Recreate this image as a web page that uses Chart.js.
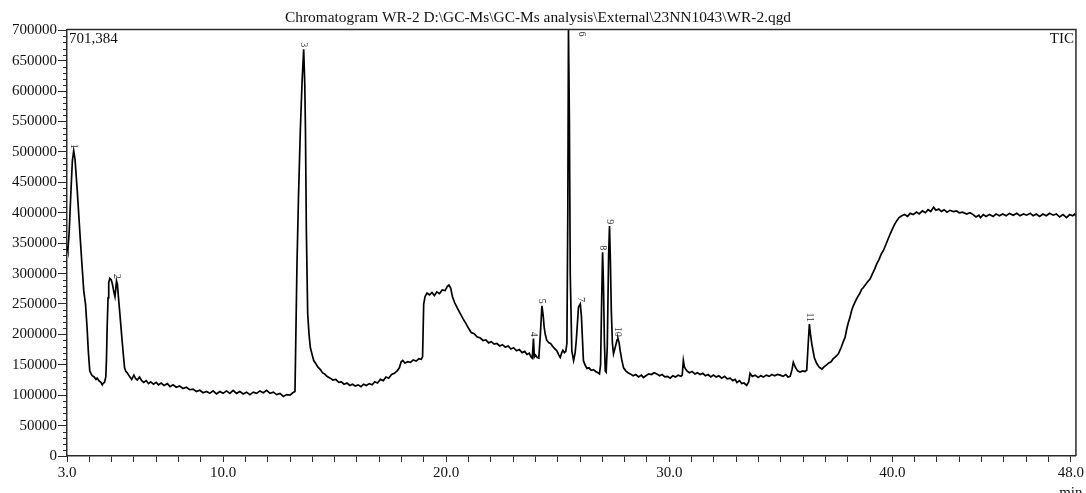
<!DOCTYPE html>
<html>
<head>
<meta charset="utf-8">
<script src="https://cdn.jsdelivr.net/npm/chart.js@4.4.1/dist/chart.umd.min.js"></script>
<style>
  html, body { margin: 0; padding: 0; background: #fff; }
  #wrap { width: 1086px; height: 493px; }
</style>
</head>
<body>
<div id="wrap"><canvas id="chart" width="1086" height="493"></canvas></div>
<script>
/* TIC chromatogram WR-2 */
const TITLE = 'Chromatogram WR-2 D:\\GC-Ms\\GC-Ms analysis\\External\\23NN1043\\WR-2.qgd';
const MAX_INTENSITY = 701384;

// retention time (min)
const retentionTimes = [
  3.00, 3.04, 3.10, 3.17, 3.24, 3.30, 3.36, 3.46, 3.53, 3.60, 3.68, 3.75, 3.83, 3.90, 3.96, 4.02, 4.08, 4.13, 4.22, 4.30,
  4.35, 4.45, 4.52, 4.58, 4.63, 4.68, 4.74, 4.77, 4.80, 4.84, 4.87, 4.92, 4.98, 5.04, 5.10, 5.15, 5.19, 5.22, 5.26, 5.32,
  5.37, 5.42, 5.47, 5.53, 5.58, 5.64, 5.70, 5.80, 5.90, 6.00, 6.08, 6.15, 6.25, 6.35, 6.44, 6.55, 6.65, 6.75, 6.88, 7.00,
  7.10, 7.22, 7.35, 7.50, 7.62, 7.75, 7.90, 8.05, 8.20, 8.35, 8.50, 8.65, 8.80, 8.95, 9.10, 9.25, 9.40, 9.55, 9.70, 9.85,
  10.00, 10.15, 10.30, 10.45, 10.60, 10.75, 10.90, 11.05, 11.20, 11.35, 11.50, 11.65, 11.80, 11.95, 12.10, 12.25, 12.40, 12.55, 12.70, 12.85,
  13.00, 13.12, 13.22, 13.31, 13.38, 13.46, 13.54, 13.61, 13.66, 13.69, 13.73, 13.79, 13.85, 13.91, 14.00, 14.06, 14.15, 14.25, 14.36,
  14.45, 14.55, 14.65, 14.80, 14.92, 15.05, 15.18, 15.30, 15.42, 15.55, 15.68, 15.80, 15.92, 16.05, 16.18, 16.30, 16.42, 16.55, 16.68, 16.80,
  16.92, 17.05, 17.18, 17.30, 17.42, 17.55, 17.68, 17.80, 17.90, 17.98, 18.05, 18.15, 18.28, 18.40, 18.52, 18.65, 18.78, 18.88, 18.94, 18.99,
  19.05, 19.14, 19.25, 19.36, 19.47, 19.58, 19.70, 19.82, 19.95, 20.05, 20.12, 20.20, 20.28, 20.38, 20.50, 20.62, 20.75, 20.88, 21.00, 21.12,
  21.25, 21.38, 21.53, 21.65, 21.78, 21.90, 22.02, 22.15, 22.27, 22.40, 22.52, 22.65, 22.78, 22.90, 23.02, 23.15, 23.28, 23.40, 23.52, 23.62,
  23.72, 23.80, 23.86, 23.91, 23.95, 24.00, 24.08, 24.15, 24.22, 24.29, 24.35, 24.39, 24.45, 24.51, 24.60, 24.68, 24.76, 24.85, 24.96, 25.05,
  25.11, 25.18, 25.23, 25.30, 25.36, 25.41, 25.45, 25.48, 25.52, 25.56, 25.63, 25.71, 25.78, 25.83, 25.93, 26.01, 26.06, 26.11, 26.15, 26.22,
  26.31, 26.40, 26.50, 26.60, 26.70, 26.80, 26.87, 26.92, 26.97, 27.01, 27.05, 27.09, 27.13, 27.17, 27.22, 27.28, 27.32, 27.36, 27.40, 27.45,
  27.50, 27.57, 27.66, 27.70, 27.75, 27.80, 27.87, 27.95, 28.05, 28.15, 28.25, 28.38, 28.50, 28.62, 28.75, 28.84, 28.95, 29.08, 29.20, 29.32,
  29.44, 29.56, 29.68, 29.80, 29.92, 30.04, 30.16, 30.28, 30.40, 30.52, 30.58, 30.63, 30.68, 30.79, 30.90, 31.02, 31.15, 31.26, 31.38, 31.50,
  31.62, 31.74, 31.86, 31.98, 32.10, 32.22, 32.35, 32.48, 32.60, 32.73, 32.85, 32.95, 33.03, 33.15, 33.25, 33.35, 33.47, 33.56, 33.62, 33.72,
  33.85, 33.98, 34.10, 34.22, 34.35, 34.48, 34.60, 34.72, 34.85, 34.97, 35.10, 35.22, 35.32, 35.42, 35.50, 35.56, 35.65, 35.75, 35.86, 35.98,
  36.08, 36.16, 36.22, 36.28, 36.33, 36.39, 36.50, 36.61, 36.72, 36.84, 36.95, 37.05, 37.15, 37.25, 37.35, 37.45, 37.58, 37.70, 37.80, 37.88,
  37.95, 38.03, 38.10, 38.18, 38.25, 38.35, 38.45, 38.55, 38.62, 38.70, 38.80, 38.90, 39.00, 39.10, 39.20, 39.30, 39.40, 39.50, 39.60, 39.70,
  39.80, 39.90, 40.00, 40.10, 40.20, 40.30, 40.42, 40.55, 40.68, 40.80, 40.94, 41.08, 41.20, 41.35, 41.48, 41.60, 41.72, 41.85, 41.95, 42.08,
  42.20, 42.32, 42.45, 42.58, 42.73, 42.88, 43.00, 43.15, 43.33, 43.48, 43.62, 43.75, 43.88, 43.95, 44.08, 44.20, 44.35, 44.52, 44.65, 44.80,
  44.95, 45.10, 45.25, 45.42, 45.58, 45.72, 45.88, 46.02, 46.18, 46.31, 46.45, 46.60, 46.75, 46.90, 47.05, 47.21, 47.35, 47.50, 47.65, 47.81,
  47.95, 48.08, 48.18, 48.23
];

// total ion current (counts)
const intensities = [
  345000, 338000, 370000, 430000, 485000, 502000, 488000, 436000, 395000, 354000, 310000, 272000, 250000, 211000, 170000, 140000, 135000, 132000, 130000, 126000,
  128000, 123000, 121000, 117000, 120000, 121000, 130000, 160000, 211000, 260000, 285000, 292000, 290000, 282000, 270000, 262000, 276000, 288000, 282000, 255000,
  234000, 212000, 190000, 165000, 145000, 139000, 137000, 131000, 126000, 133000, 127000, 125000, 130000, 124000, 121000, 124000, 119000, 122000, 118000, 121000,
  117000, 120000, 116000, 119000, 114000, 117000, 113000, 115000, 111000, 113000, 109000, 110000, 106000, 108000, 104000, 106000, 103000, 107000, 102000, 106000,
  103000, 107000, 103000, 108000, 103000, 106000, 102000, 105000, 101000, 105000, 103000, 107000, 104000, 108000, 103000, 105000, 101000, 103000, 98000, 101000,
  100000, 104000, 106000, 316000, 430000, 535000, 617000, 669000, 610000, 535000, 370000, 234000, 200000, 178000, 165000, 157000, 152000, 146000, 142000,
  137000, 135000, 131000, 128000, 125000, 126000, 121000, 122000, 118000, 120000, 116000, 118000, 115000, 117000, 114000, 118000, 116000, 119000, 117000, 122000,
  120000, 126000, 124000, 130000, 128000, 134000, 136000, 140000, 145000, 155000, 157000, 153000, 155000, 154000, 158000, 156000, 160000, 159000, 163000, 250000,
  262000, 268000, 265000, 269000, 264000, 270000, 267000, 273000, 272000, 279000, 281000, 276000, 262000, 252000, 243000, 235000, 226000, 218000, 210000, 203000,
  201000, 196000, 194000, 190000, 191000, 186000, 188000, 184000, 185000, 181000, 183000, 179000, 181000, 176000, 178000, 173000, 175000, 170000, 172000, 167000,
  169000, 163000, 161000, 193000, 163000, 166000, 162000, 161000, 200000, 247000, 230000, 212000, 198000, 190000, 186000, 185000, 181000, 177000, 173000, 166000,
  162000, 170000, 174000, 170000, 172000, 185000, 400000, 701384, 560000, 300000, 173000, 157000, 170000, 190000, 245000, 250000, 230000, 190000, 157000, 150000,
  144000, 145000, 141000, 142000, 139000, 137000, 135000, 150000, 260000, 335000, 280000, 190000, 140000, 138000, 180000, 330000, 378000, 320000, 240000, 185000,
  168000, 178000, 191000, 193000, 186000, 173000, 158000, 145000, 140000, 137000, 135000, 132000, 134000, 130000, 133000, 129000, 132000, 135000, 134000, 137000,
  135000, 132000, 134000, 130000, 131000, 128000, 132000, 130000, 133000, 131000, 133000, 157000, 146000, 140000, 137000, 139000, 135000, 137000, 134000, 136000,
  132000, 134000, 130000, 133000, 130000, 132000, 128000, 131000, 127000, 128000, 124000, 126000, 121000, 124000, 119000, 120000, 116000, 122000, 136000, 131000,
  133000, 129000, 132000, 130000, 133000, 131000, 134000, 132000, 134000, 133000, 131000, 134000, 130000, 131000, 142000, 154000, 146000, 140000, 138000, 140000,
  139000, 141000, 180000, 217000, 200000, 184000, 162000, 152000, 146000, 143000, 147000, 150000, 153000, 155000, 160000, 163000, 168000, 178000, 188000, 195000,
  208000, 220000, 228000, 240000, 247000, 255000, 262000, 268000, 274000, 277000, 282000, 287000, 291000, 299000, 307000, 316000, 323000, 332000, 338000, 347000,
  356000, 365000, 373000, 381000, 387000, 392000, 395000, 397000, 394000, 399000, 397000, 401000, 398000, 403000, 400000, 405000, 402000, 409000, 404000, 406000,
  402000, 405000, 401000, 404000, 402000, 403000, 400000, 401000, 398000, 400000, 397000, 393000, 396000, 392000, 397000, 394000, 397000, 394000, 398000, 395000,
  398000, 395000, 399000, 396000, 399000, 395000, 398000, 396000, 399000, 395000, 398000, 394000, 398000, 395000, 399000, 396000, 398000, 393000, 397000, 392000,
  397000, 395000, 398000, 394000
];

// numbered peaks
const peakLabels = ['1', '2', '3', '4', '5', '6', '7', '8', '9', '10', '11'];
const peakTimes = [3.30, 5.22, 13.61, 23.91, 24.29, 25.48, 26.01, 27.01, 27.32, 27.70, 36.28];
const peakHeights = [502000, 288000, 669000, 193000, 247000, 701384, 250000, 335000, 378000, 193000, 217000];

// axes
const xLabelled = [3, 10, 20, 30, 40, 48];
const yTickValues = [0, 50000, 100000, 150000, 200000, 250000, 300000, 350000, 400000, 450000, 500000, 550000, 600000, 650000, 700000];

const SERIF = "'Liberation Serif', 'Times New Roman', serif";
const INK = '#111';
const FRAME = '#2a2a2a';

const xMinorTicks = [];
for (let m = 3; m <= 48; m++) xMinorTicks.push(m);

const chartFrame = {
  id: 'chartFrame',
  afterDraw(chart) {
    const { ctx, chartArea: a, scales } = chart;
    ctx.save();
    ctx.strokeStyle = FRAME;
    ctx.lineWidth = 1.5;
    ctx.beginPath();
    ctx.moveTo(a.left, a.top);
    ctx.lineTo(a.right, a.top);
    ctx.lineTo(a.right, a.bottom);
    ctx.stroke();

    // short minor ticks on the intensity axis
    ctx.lineWidth = 1;
    ctx.beginPath();
    for (let v = 10000; v < 701384; v += 10000) {
      if (v % 50000 === 0) continue;
      const py = Math.round(scales.y.getPixelForValue(v)) + 0.5;
      ctx.moveTo(a.left - 4, py);
      ctx.lineTo(a.left, py);
    }
    ctx.stroke();

    ctx.fillStyle = INK;
    ctx.font = '15px ' + SERIF;
    ctx.textBaseline = 'middle';
    ctx.textAlign = 'left';
    ctx.fillText(MAX_INTENSITY.toLocaleString('en-US'), a.left + 2, 39);
    ctx.textAlign = 'right';
    ctx.fillText('TIC', a.right - 2, 39);
    ctx.textAlign = 'center';
    ctx.textBaseline = 'alphabetic';
    ctx.fillText('min', scales.x.getPixelForValue(48), 497);
    ctx.restore();
  }
};

const peakNumbers = {
  id: 'peakNumbers',
  afterDatasetsDraw(chart) {
    const { ctx, chartArea: a, scales } = chart;
    ctx.save();
    ctx.fillStyle = '#333';
    ctx.font = '10px ' + SERIF;
    ctx.textBaseline = 'middle';
    peakLabels.forEach((lbl, i) => {
      let px = scales.x.getPixelForValue(peakTimes[i]);
      let py = scales.y.getPixelForValue(peakHeights[i]) - 2;
      ctx.save();
      if (py - 8 < a.top) {
        // off-scale peak: number sits beside the line
        px += 13;
        ctx.translate(px, a.top + 2);
        ctx.rotate(Math.PI / 2);
        ctx.textAlign = 'left';
      } else {
        ctx.translate(px, py);
        ctx.rotate(Math.PI / 2);
        ctx.textAlign = 'right';
      }
      ctx.fillText(lbl, 0, 0);
      ctx.restore();
    });
    ctx.restore();
  }
};

new Chart(document.getElementById('chart'), {
  type: 'line',
  data: {
    datasets: [{
      label: 'TIC',
      data: retentionTimes.map((t, i) => ({ x: t, y: intensities[i] })),
      borderColor: '#000',
      borderWidth: 1.7,
      pointRadius: 0,
      tension: 0,
      fill: false
    }]
  },
  options: {
    responsive: false,
    animation: false,
    devicePixelRatio: 1,
    layout: { padding: { left: 0, right: 10, top: 0, bottom: 0 } },
    plugins: {
      legend: { display: false },
      tooltip: { enabled: false },
      title: {
        display: true,
        text: TITLE,
        color: INK,
        font: { family: SERIF, size: 15.4, weight: 'normal' },
        padding: { top: 9, bottom: 2 }
      }
    },
    scales: {
      x: {
        type: 'linear',
        min: 3,
        max: 48.23,
        afterBuildTicks: s => { s.ticks = xMinorTicks.map(v => ({ value: v })); },
        afterFit: s => { s.height = 37; },
        ticks: {
          autoSkip: false,
          maxRotation: 0,
          padding: 2,
          color: INK,
          font: { family: SERIF, size: 15 },
          callback: v => xLabelled.includes(v) ? v.toFixed(1) : ''
        },
        grid: { drawOnChartArea: false, tickLength: 6, tickColor: FRAME, tickWidth: 1 },
        border: { color: FRAME, width: 1.5 }
      },
      y: {
        min: 0,
        max: MAX_INTENSITY,
        afterBuildTicks: s => { s.ticks = yTickValues.map(v => ({ value: v })); },
        afterFit: s => { s.width = 67; },
        ticks: {
          padding: 1,
          color: INK,
          font: { family: SERIF, size: 15 },
          callback: v => String(v)
        },
        grid: { drawOnChartArea: false, tickLength: 9, tickColor: FRAME, tickWidth: 1 },
        border: { color: FRAME, width: 1.5 }
      }
    }
  },
  plugins: [chartFrame, peakNumbers]
});
</script>
</body>
</html>
